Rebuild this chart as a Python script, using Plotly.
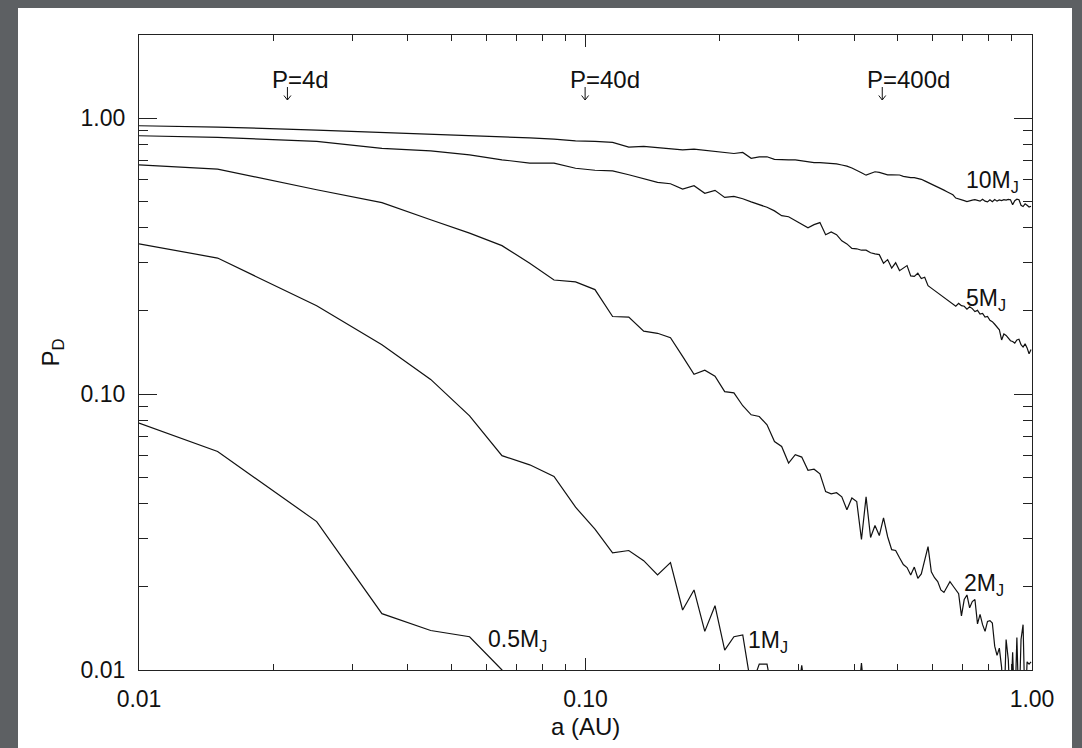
import math
import plotly.graph_objects as go

# Semi-major axis grid (AU)
a_au = [0.010, 0.015, 0.025, 0.035, 0.045, 0.055, 0.065, 0.075, 0.085, 0.095,
        0.105, 0.115, 0.125, 0.135, 0.145, 0.155, 0.165, 0.175, 0.185, 0.195,
        0.205, 0.215, 0.225, 0.235, 0.245, 0.255, 0.265, 0.275, 0.285, 0.295,
        0.305, 0.315, 0.325, 0.335, 0.345, 0.355, 0.365, 0.375, 0.385, 0.395,
        0.405, 0.415, 0.425, 0.435, 0.445, 0.455, 0.465, 0.475, 0.485, 0.495,
        0.505, 0.515, 0.525, 0.535, 0.545, 0.555, 0.565, 0.575, 0.585, 0.595,
        0.605, 0.615, 0.625, 0.635, 0.645, 0.655, 0.665, 0.675, 0.685, 0.695,
        0.705, 0.715, 0.725, 0.735, 0.745, 0.755, 0.765, 0.775, 0.785, 0.795,
        0.805, 0.815, 0.825, 0.835, 0.845, 0.855, 0.865, 0.875, 0.885, 0.895,
        0.905, 0.915, 0.925, 0.935, 0.945, 0.955, 0.965, 0.975, 0.985, 0.995]

# Detection probability P_D for each planet mass
pd_10mj = [0.938, 0.928, 0.905, 0.887, 0.877, 0.868, 0.856, 0.848, 0.839, 0.827,
           0.823, 0.816, 0.785, 0.790, 0.782, 0.775, 0.767, 0.772, 0.764, 0.757,
           0.752, 0.744, 0.751, 0.715, 0.723, 0.724, 0.709, 0.706, 0.706, 0.706,
           0.700, 0.694, 0.690, 0.689, 0.688, 0.687, 0.682, 0.676, 0.670, 0.659,
           0.644, 0.634, 0.621, 0.628, 0.639, 0.636, 0.628, 0.623, 0.623, 0.623,
           0.622, 0.615, 0.610, 0.608, 0.608, 0.605, 0.600, 0.592, 0.583, 0.576,
           0.569, 0.562, 0.553, 0.548, 0.541, 0.533, 0.527, 0.513, 0.510, 0.506,
           0.502, 0.498, 0.502, 0.504, 0.506, 0.503, 0.500, 0.508, 0.500, 0.497,
           0.506, 0.498, 0.507, 0.500, 0.505, 0.502, 0.506, 0.504, 0.507, 0.506,
           0.485, 0.502, 0.508, 0.506, 0.483, 0.478, 0.489, 0.483, 0.476, 0.479]

pd_5mj = [0.863, 0.851, 0.823, 0.776, 0.761, 0.736, 0.706, 0.687, 0.687, 0.658,
          0.647, 0.644, 0.623, 0.605, 0.585, 0.578, 0.553, 0.569, 0.534, 0.547,
          0.516, 0.520, 0.510, 0.497, 0.485, 0.475, 0.461, 0.443, 0.439, 0.426,
          0.414, 0.400, 0.411, 0.418, 0.378, 0.387, 0.378, 0.359, 0.350, 0.337,
          0.336, 0.332, 0.332, 0.325, 0.322, 0.320, 0.298, 0.307, 0.286, 0.299,
          0.280, 0.287, 0.292, 0.268, 0.267, 0.274, 0.262, 0.265, 0.247, 0.242,
          0.237, 0.233, 0.228, 0.223, 0.220, 0.215, 0.211, 0.208, 0.213, 0.209,
          0.208, 0.203, 0.207, 0.204, 0.199, 0.201, 0.195, 0.196, 0.190, 0.191,
          0.185, 0.183, 0.179, 0.175, 0.171, 0.157, 0.165, 0.163, 0.159, 0.156,
          0.155, 0.153, 0.157, 0.158, 0.151, 0.148, 0.152, 0.147, 0.140, 0.145]

pd_2mj = [0.677, 0.653, 0.550, 0.494, 0.428, 0.383, 0.345, 0.298, 0.259, 0.255,
          0.239, 0.191, 0.190, 0.169, 0.166, 0.160, 0.137, 0.118, 0.122, 0.116,
          0.102, 0.101, 0.0907, 0.0841, 0.0829, 0.0774, 0.0673, 0.0646, 0.0562, 0.0603,
          0.0591, 0.0529, 0.0534, 0.0514, 0.0443, 0.0435, 0.0439, 0.0424, 0.0381, 0.0420,
          0.0408, 0.0297, 0.0424, 0.0302, 0.0334, 0.0307, 0.0356, 0.0304, 0.0273, 0.0271,
          0.0255, 0.0241, 0.0235, 0.0221, 0.0236, 0.0215, 0.0223, 0.0251, 0.0280, 0.0227,
          0.0216, 0.0209, 0.0195, 0.0191, 0.0199, 0.0209, 0.0202, 0.0195, 0.0189, 0.0157,
          0.0180, 0.0187, 0.0168, 0.0177, 0.0180, 0.0147, 0.0159, 0.0146, 0.0138, 0.0150,
          0.0151, 0.0148, 0.0122, 0.0113, 0.0120, 0.0102, 0.0070, 0.0129, 0.0109, 0.0070,
          0.0116, 0.0070, 0.0131, 0.0070, 0.0129, 0.0146, 0.0070, 0.0107, 0.0105, 0.0107]

pd_1mj = [0.350, 0.311, 0.209, 0.151, 0.113, 0.0834, 0.0598, 0.0554, 0.0503, 0.0389,
          0.0324, 0.0266, 0.0271, 0.0249, 0.0221, 0.0245, 0.0165, 0.0195, 0.0138, 0.0171,
          0.0118, 0.0132, 0.0134, 0.0087, 0.0105, 0.0105, 0.0075, 0.0070, 0.0070, 0.0070,
          0.0104, 0.0070, 0.0070, 0.0070, 0.0070, 0.0070, 0.0070, 0.0070, 0.0070, 0.0070,
          0.0070, 0.0106, 0.0070]

pd_05mj = [0.0785, 0.0619, 0.0345, 0.0160, 0.0139, 0.0132, 0.0100, 0.0070]

series = [pd_10mj, pd_5mj, pd_2mj, pd_1mj, pd_05mj]

# Curve labels: text, left edge (a), vertical centre (P_D)
curve_labels = ["10M<sub>J</sub>", "5M<sub>J</sub>", "2M<sub>J</sub>", "1M<sub>J</sub>", "0.5M<sub>J</sub>"]
curve_label_a = [0.705, 0.705, 0.697, 0.229, 0.0600]
curve_label_pd = [0.588, 0.221, 0.0204, 0.0127, 0.0128]

# Orbital period markers
period_labels = ["P=4d", "P=40d", "P=400d"]
period_a = [0.0215, 0.0998, 0.462]

tick_vals = [0.01, 0.1, 1.0]
x_tick_text = ["0.01", "0.10", "1.00"]
y_tick_text = ["0.01", "0.10", "1.00"]
x_minor = [0.02, 0.03, 0.04, 0.05, 0.06, 0.07, 0.08, 0.09,
           0.2, 0.3, 0.4, 0.5, 0.6, 0.7, 0.8, 0.9]
y_minor = [0.02, 0.03, 0.04, 0.05, 0.06, 0.07, 0.08, 0.09,
           0.2, 0.3, 0.4, 0.5, 0.6, 0.7, 0.8, 0.9, 2.0]

X_RANGE = [-2, 0]
Y_RANGE = [-2, math.log10(2.0)]

FONT = "Liberation Sans, Arial, Helvetica, sans-serif"
INK = "#111111"
AXIS = "#222222"

fig = go.Figure()
for vals in series:
    fig.add_trace(go.Scatter(
        x=a_au[:len(vals)], y=vals, mode="lines",
        line=dict(color=INK, width=1.2),
        showlegend=False, hoverinfo="skip",
    ))

# plot-area geometry in pixels
W, H = 1082, 748
L, R, T, B = 139, 50, 35, 78
pw, ph = W - L - R, H - T - B

def px_x(px):
    return (px - L) / pw

def px_y(py):
    return (H - B - py) / ph

def a_to_paper(a):
    return (math.log10(a) - X_RANGE[0]) / (X_RANGE[1] - X_RANGE[0])

# white page panel behind the axes
fig.add_shape(type="rect", xref="paper", yref="paper",
              x0=px_x(18), x1=px_x(1072), y0=px_y(748), y1=px_y(8),
              fillcolor="white", line_width=0, layer="below")

# small down arrows under the period labels (tip at the anchor, in pixels)
for a in period_a:
    fig.add_shape(type="path", xref="paper", yref="paper",
                  xsizemode="pixel", ysizemode="pixel",
                  xanchor=a_to_paper(a), yanchor=px_y(100),
                  path="M 0 0 L 0 13 M -3.5 4.5 L 0 0 L 3.5 4.5",
                  line=dict(color=INK, width=1))

annotations = []
for txt, a, p in zip(curve_labels, curve_label_a, curve_label_pd):
    annotations.append(dict(
        x=math.log10(a), y=math.log10(p), xref="x", yref="y",
        text=txt, showarrow=False, xanchor="left", yanchor="middle",
        font=dict(family=FONT, size=23, color=INK),
    ))

for txt, a in zip(period_labels, period_a):
    annotations.append(dict(
        x=math.log10(a), y=px_y(79), xref="x", yref="paper",
        text=txt, showarrow=False, xanchor="left", yanchor="middle",
        xshift=-17, font=dict(family=FONT, size=24, color=INK),
    ))

annotations.append(dict(
    x=0.5, y=px_y(726), xref="paper", yref="paper", text="a (AU)",
    showarrow=False, xanchor="center", yanchor="middle",
    font=dict(family=FONT, size=24, color=INK),
))
annotations.append(dict(
    x=px_x(52), y=0.5, xref="paper", yref="paper", text="P<sub>D</sub>",
    showarrow=False, xanchor="center", yanchor="middle", textangle=-90,
    font=dict(family=FONT, size=24, color=INK),
))

fig.update_layout(
    width=W, height=H,
    margin=dict(l=L, r=R, t=T, b=B),
    paper_bgcolor="#5d6063", plot_bgcolor="white",
    font=dict(family=FONT, size=23, color=INK),
    showlegend=False,
    annotations=annotations,
)

fig.update_xaxes(
    type="log", range=X_RANGE,
    tickmode="array", tickvals=tick_vals, ticktext=x_tick_text,
    ticks="inside", ticklen=12, tickwidth=1.2, tickcolor=AXIS,
    showline=True, linecolor=AXIS, linewidth=1.2, mirror="allticks",
    showgrid=False, zeroline=False,
    tickfont=dict(family=FONT, size=23, color=INK),
    ticklabelstandoff=8,
    minor=dict(tickmode="array", tickvals=x_minor, ticks="inside",
               ticklen=6, tickwidth=1, tickcolor=AXIS, showgrid=False),
)
fig.update_yaxes(
    type="log", range=Y_RANGE,
    tickmode="array", tickvals=tick_vals, ticktext=y_tick_text,
    ticks="inside", ticklen=18, tickwidth=1.2, tickcolor=AXIS,
    showline=True, linecolor=AXIS, linewidth=1.2, mirror="allticks",
    showgrid=False, zeroline=False,
    tickfont=dict(family=FONT, size=23, color=INK),
    ticklabelstandoff=8,
    minor=dict(tickmode="array", tickvals=y_minor, ticks="inside",
               ticklen=9, tickwidth=1, tickcolor=AXIS, showgrid=False),
)

fig.write_html("out.html")
